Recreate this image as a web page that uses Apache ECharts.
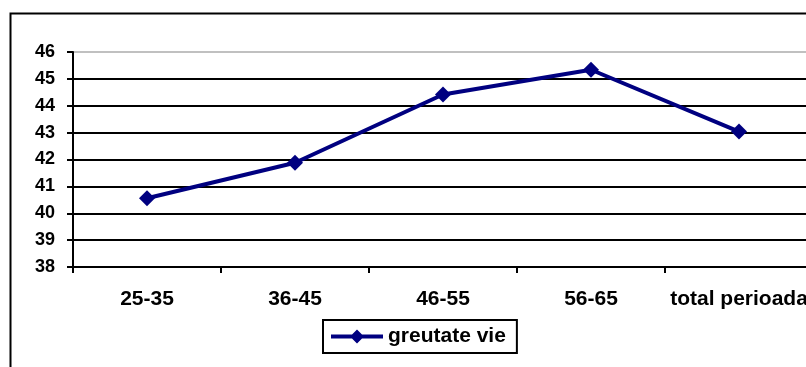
<!DOCTYPE html>
<html>
<head>
<meta charset="utf-8">
<script src="https://cdn.jsdelivr.net/npm/echarts@6/dist/echarts.min.js"></script>
<style>
html,body{margin:0;padding:0;background:#fff;}
#chart{width:806px;height:367px;}
</style>
</head>
<body>
<div id="chart"></div>
<script>
const categories = ['25-35', '36-45', '46-55', '56-65', 'total perioada'];
const seriesName = 'greutate vie';
const values = [40.56, 41.88, 44.42, 45.34, 43.04];
const yMin = 38, yMax = 46, yInterval = 1;

const FONT = 'Arial, "Liberation Sans", sans-serif';
const legendIcon = 'path://M0,5L21,5L26,0L31,5L52,5L52,9L31,9L26,14L21,9L0,9Z';
const chart = echarts.init(document.getElementById('chart'), null, {renderer: 'canvas'});
chart.setOption({
  animation: false,
  backgroundColor: '#fff',
  graphic: [{
    type: 'rect',
    shape: {x: 10.5, y: 13.5, width: 900, height: 400},
    style: {fill: 'none', stroke: '#000', lineWidth: 2},
    silent: true, z: 0
  }],
  grid: {left: 73, top: 52, width: 740, height: 215, containLabel: false, outerBoundsMode: 'none'},
  legend: {
    data: [{name: seriesName, icon: legendIcon}],
    left: 323, top: 320,
    itemWidth: 52, itemHeight: 14,
    padding: [6, 11, 6, 8],
    borderColor: '#000', borderWidth: 2,
    backgroundColor: '#fff',
    itemStyle: {color: '#000080', borderWidth: 0},
    textStyle: {fontFamily: FONT, fontWeight: 'bold', fontSize: 21, color: '#000'}
  },
  xAxis: {
    type: 'category',
    data: categories,
    boundaryGap: true,
    axisLine: {show: true, lineStyle: {color: '#000', width: 2}},
    axisTick: {show: true, length: 6, inside: false, lineStyle: {color: '#000', width: 2}},
    axisLabel: {margin: 22, fontFamily: FONT, fontWeight: 'bold', fontSize: 21, color: '#000', interval: 0},
    splitLine: {show: false}
  },
  yAxis: {
    type: 'value',
    min: yMin, max: yMax, interval: yInterval,
    axisLine: {show: true, lineStyle: {color: '#000', width: 2}},
    axisTick: {show: true, length: 6, lineStyle: {color: '#000', width: 2}},
    axisLabel: {margin: 18, fontFamily: FONT, fontWeight: 'bold', fontSize: 18, color: '#000'},
    splitLine: {show: true, lineStyle: {color: ['#000','#000','#000','#000','#000','#000','#000','#000','#c0c0c0'], width: 2}}
  },
  series: [{
    name: seriesName,
    type: 'line',
    data: values,
    symbol: 'diamond',
    symbolSize: 16,
    lineStyle: {color: '#000080', width: 4},
    itemStyle: {color: '#000080'},
    z: 5
  }]
});
</script>
</body>
</html>
